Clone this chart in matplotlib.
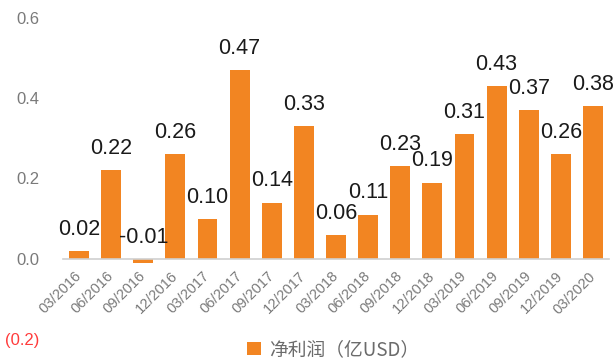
import numpy as np
import matplotlib
matplotlib.use('Agg')
import matplotlib.pyplot as plt

# podaci
quarters = ['03/2016', '06/2016', '09/2016', '12/2016', '03/2017', '06/2017',
            '09/2017', '12/2017', '03/2018', '06/2018', '09/2018', '12/2018',
            '03/2019', '06/2019', '09/2019', '12/2019', '03/2020']
net_profit = [0.02, 0.22, -0.01, 0.26, 0.10, 0.47, 0.14, 0.33, 0.06, 0.11,
              0.23, 0.19, 0.31, 0.43, 0.37, 0.26, 0.38]
y_ticks = [-0.2, 0.0, 0.2, 0.4, 0.6]
series_name = '净利润（亿USD）'

bar_color = '#F28522'
gray = '#7a7a7a'

plt.rcParams['font.family'] = ['Liberation Sans', 'DejaVu Sans']

fig = plt.figure(figsize=(6.16, 3.59), dpi=100)
ax = fig.add_axes([0.1023, 0.0557, 0.8863, 0.8942])

# spine prvo, jer set_position resetuje tickove
for s in ['top', 'right', 'left']:
    ax.spines[s].set_visible(False)
ax.spines['bottom'].set_position(('data', 0))
ax.spines['bottom'].set_color('#d0d0d0')
ax.spines['bottom'].set_linewidth(1.2)
ax.spines['bottom'].set_zorder(3)

x = np.arange(len(quarters))
ax.bar(x, net_profit, width=0.62, color=bar_color, label=series_name, zorder=2)

# oznake vrednosti iznad stubova
for xi, v in zip(x, net_profit):
    ax.annotate('%.2f' % v, xy=(xi, max(v, 0)), xytext=(0, 8),
                textcoords='offset points', ha='center', va='bottom',
                fontsize=15.5, color='#1a1a1a')

ax.set_xlim(-0.5, len(quarters) - 0.5)
ax.set_ylim(-0.2, 0.6)

ax.tick_params(axis='y', length=0, pad=17)
ax.tick_params(axis='x', length=0, pad=11)

ax.set_yticks(y_ticks)
ylabels = []
for t in y_ticks:
    if t < 0:
        ylabels.append('(%.1f)' % abs(t))
    else:
        ylabels.append('%.1f' % t)
ax.set_yticklabels(ylabels, fontsize=12)
for lab, t in zip(ax.get_yticklabels(), y_ticks):
    lab.set_color('#FF3B3B' if t < 0 else gray)

ax.set_xticks(x)
ax.set_xticklabels(quarters, fontsize=10.5, color=gray)
plt.setp(ax.get_xticklabels(), rotation=45, ha='right', va='center',
         rotation_mode='anchor')

leg = fig.legend(loc='center', bbox_to_anchor=(0.541, 0.026), frameon=False,
                 handlelength=0.75, handleheight=0.75, handletextpad=0.4,
                 prop={'family': ['Noto Sans CJK SC', 'DejaVu Sans'], 'size': 13.5})
for t in leg.get_texts():
    t.set_color('#6b6b6b')

fig.savefig('out.png', dpi=100)
